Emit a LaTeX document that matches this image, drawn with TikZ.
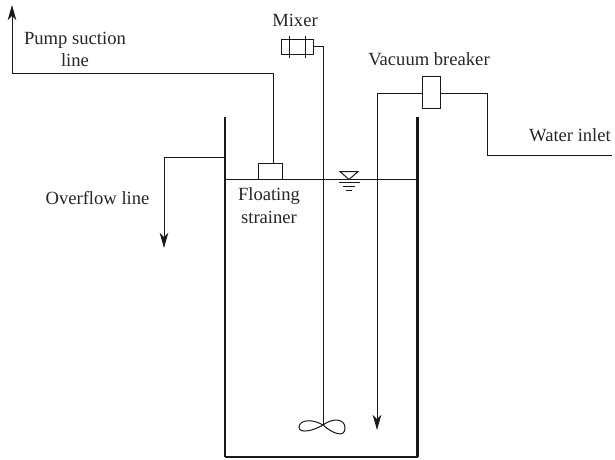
\documentclass[tikz,border=0pt]{standalone}
\usepackage{fontspec}
\setmainfont{Liberation Serif}
\usetikzlibrary{arrows.meta}
\tikzset{
  x=1pt,y=-1pt,
  pipe/.style={line width=1pt,draw=black!90},
  wall/.style={line width=2.2pt,draw=black!90},
  flow/.style={pipe,-{Stealth[length=15pt,width=8.5pt,inset=4pt]}},
  device/.style={draw=black!90,line width=1pt,fill=white,inner sep=0pt,minimum width=#1},
  lbl/.style={inner sep=0pt,font=\fontsize{18.6}{22}\selectfont,text=black!85,align=center,anchor=base}
}
\begin{document}
\begin{tikzpicture}
\useasboundingbox (0,0) rectangle (615,459);
% tank
\coordinate (tl) at (225,117); \coordinate (bl) at (225,457);
\coordinate (br) at (417.5,457); \coordinate (tr) at (417.5,117);
\draw[wall,line join=miter] (tl) -- (bl);
\draw[wall] (tr) -- (br);
\draw[pipe,line width=1.1pt] (bl) -- (br);
% water level
\coordinate (wl) at (225,179.5); \coordinate (wr) at (417.5,179.5);
\draw[pipe] (wl) -- (wr);
\coordinate (t1) at (340,171.5); \coordinate (t2) at (358,171.5); \coordinate (t3) at (349,179.5);
\draw[pipe] (t1) -- (t2) -- (t3) -- cycle;
\coordinate (a1) at (339,182.5); \coordinate (a2) at (360,182.5);
\coordinate (b1) at (343,186.5); \coordinate (b2) at (355,186.5);
\coordinate (c1) at (346,190.5); \coordinate (c2) at (352,190.5);
\draw[pipe] (a1) -- (a2) (b1) -- (b2) (c1) -- (c2);
% strainer and pump suction
\node[device=24pt,minimum height=16pt] (strainer) at (270,171.5) {};
\coordinate (p1) at (273,73); \coordinate (p2) at (12,73); \coordinate (p3) at (12,5);
\draw[flow] (strainer.north -| p1) -- (p1) -- (p2) -- (p3);
% overflow
\coordinate (o0) at (225,157); \coordinate (o1) at (164,157); \coordinate (o2) at (164,248);
\draw[flow] (o0) -- (o1) -- (o2);
% mixer
\node[device=32pt,minimum height=15pt] (mixer) at (297,46.5) {};
\coordinate (m1a) at (289,36); \coordinate (m1b) at (289,58);
\coordinate (m2a) at (305,36); \coordinate (m2b) at (305,58);
\draw[pipe] (m1a) -- (m1b) (m2a) -- (m2b);
\coordinate (s1) at (323,46.5); \coordinate (hub) at (323,425);
\draw[pipe] (mixer.east) -- (s1) -- (hub);
\draw[pipe] (hub) .. controls (313,419) and (300,419) .. (299,427)
  .. controls (299,434) and (313,431) .. (hub)
  .. controls (332,418) and (345,418) .. (345,428)
  .. controls (345,438) and (333,434) .. (hub);
% vacuum breaker
\node[device=18pt,minimum height=32pt] (vb) at (431,92) {};
\coordinate (v1) at (377,93); \coordinate (v2) at (377,430);
\coordinate (w1) at (487,93); \coordinate (w2) at (487,155); \coordinate (w3) at (612,155);
\draw[flow] (vb.west |- v1) -- (v1) -- (v2);
\draw[pipe] (vb.east |- w1) -- (w1) -- (w2) -- (w3);
% labels
\node[lbl] (lmixer) at (295,26) {Mixer};
\node[lbl] (lpump) at (75,44) {Pump suction};
\node[lbl] (lline) at (75,66) {line};
\node[lbl] (lvac) at (429,65) {Vacuum breaker};
\node[lbl] (lwater) at (570,141) {Water inlet};
\node[lbl] (lover) at (97.5,204) {Overflow line};
\node[lbl] (lfl) at (269,200) {Floating};
\node[lbl] (lst) at (269,223) {strainer};
\end{tikzpicture}
\end{document}
